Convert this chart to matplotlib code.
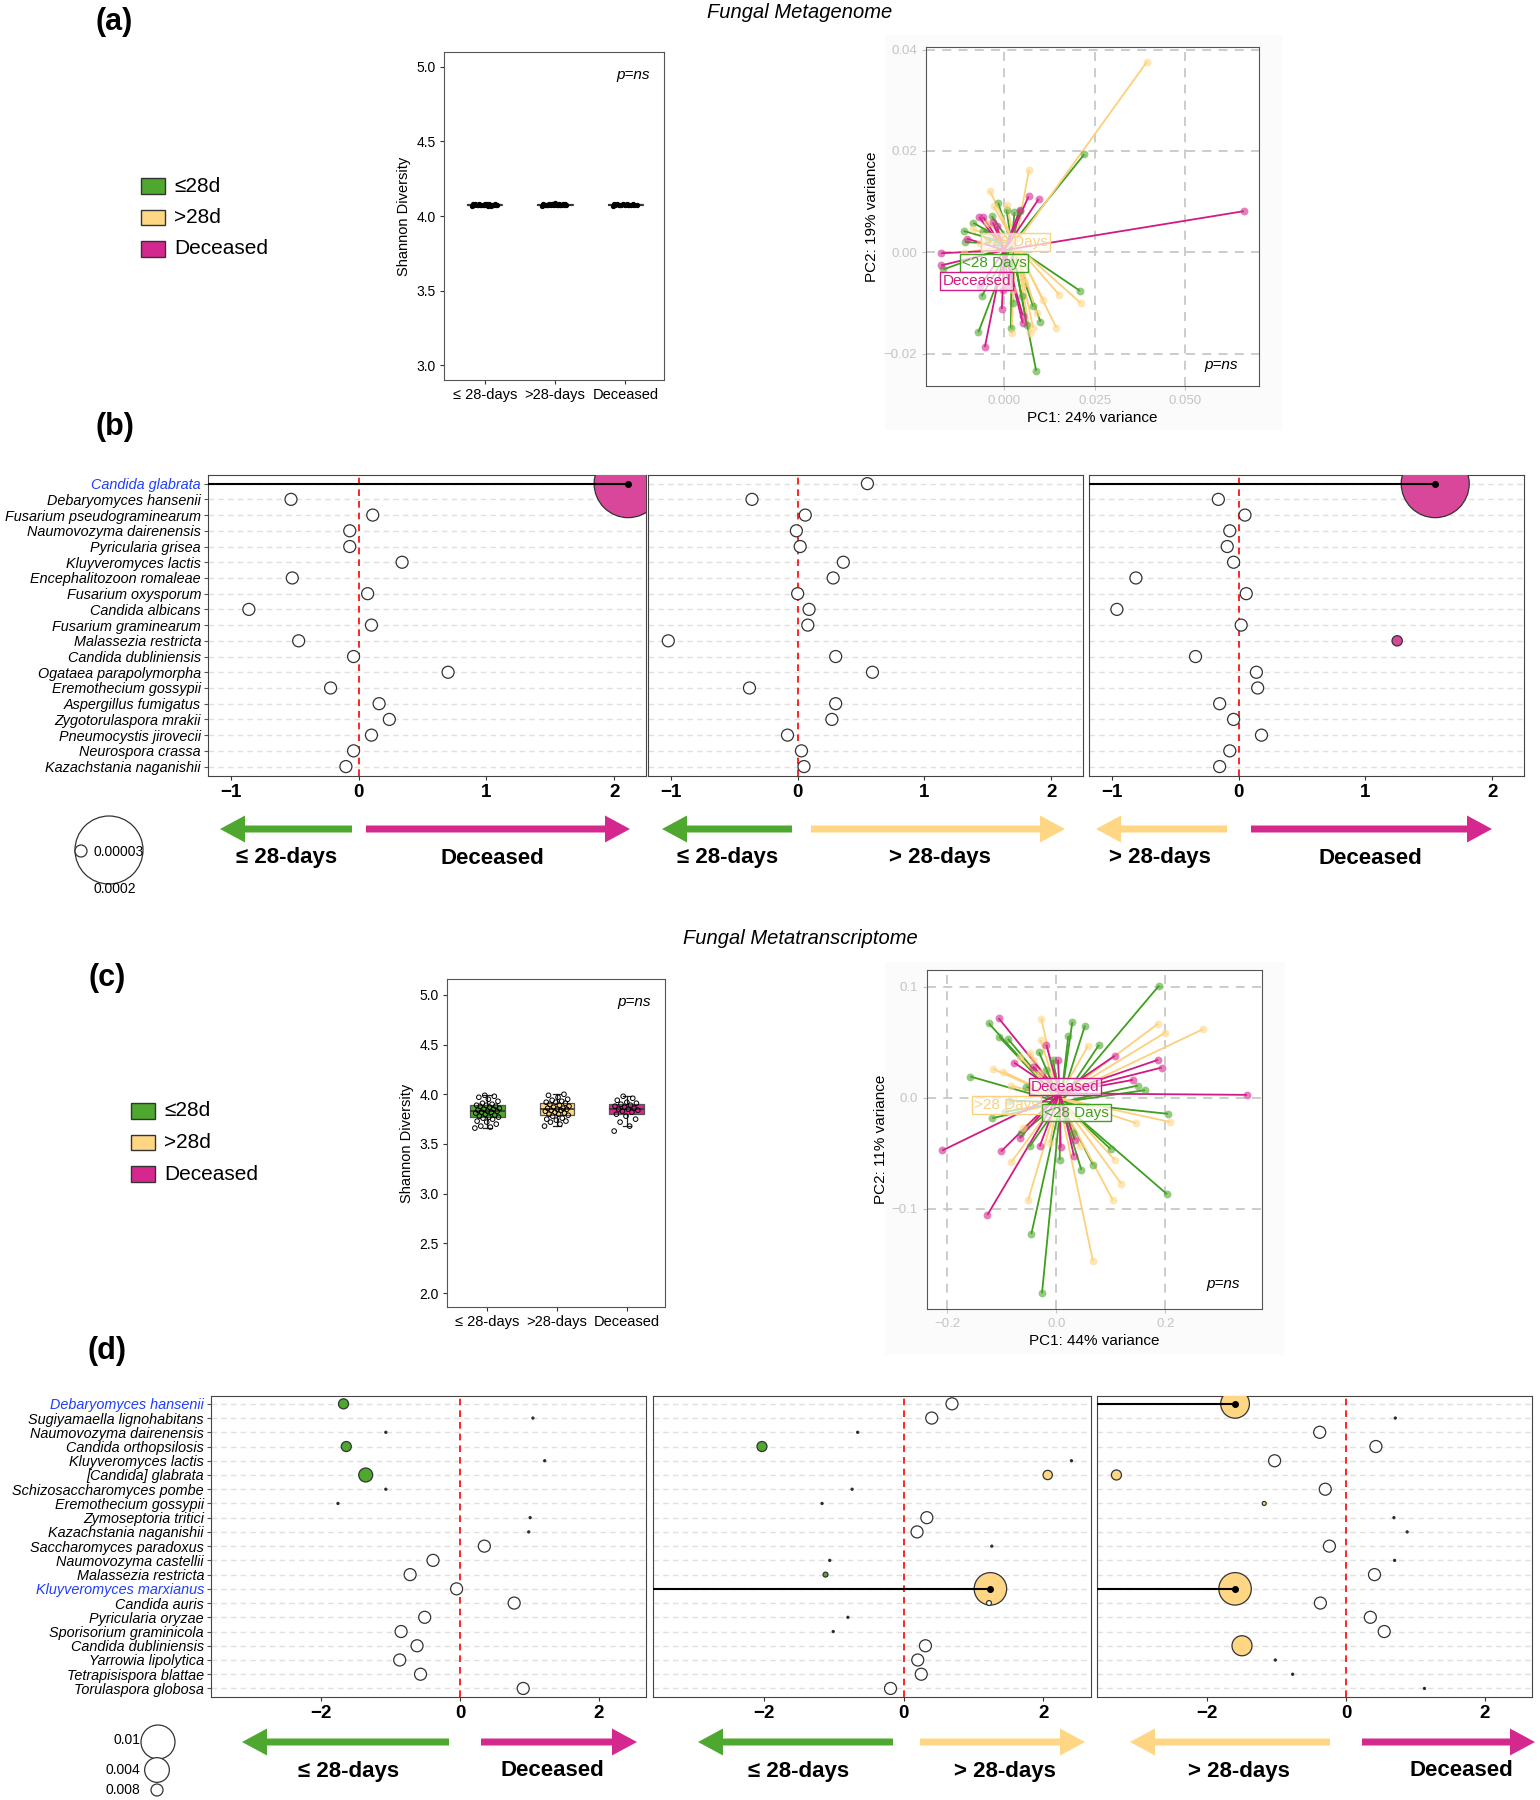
import matplotlib.pyplot as plt
import numpy as np
from matplotlib.patches import FancyArrow, Rectangle
from matplotlib.collections import LineCollection

plt.rcParams['font.family'] = ['Liberation Sans', 'DejaVu Sans']

# ---------------- data ----------------
groups = ['≤ 28-days', '>28-days', 'Deceased']

# Shannon diversity, metagenome (a)
shannon_a_le28 = [4.068, 4.070, 4.071, 4.072, 4.073, 4.074, 4.074, 4.075, 4.075, 4.076, 4.076,
                  4.077, 4.077, 4.078, 4.078, 4.079, 4.080, 4.081, 4.082, 4.070, 4.073, 4.076, 4.079]
shannon_a_gt28 = [4.069, 4.071, 4.072, 4.073, 4.074, 4.075, 4.075, 4.076, 4.076, 4.077, 4.077,
                  4.078, 4.078, 4.079, 4.080, 4.081, 4.083, 4.086, 4.072, 4.075, 4.078]
shannon_a_dec = [4.069, 4.071, 4.072, 4.073, 4.074, 4.075, 4.076, 4.076, 4.077, 4.078, 4.079,
                 4.080, 4.081, 4.083, 4.074, 4.077]

# Shannon diversity, metatranscriptome (c)
shannon_c_le28 = [3.66, 3.67, 3.68, 3.70, 3.72, 3.73, 3.75, 3.76, 3.77, 3.77, 3.78, 3.79, 3.80, 3.81,
                  3.82, 3.82, 3.83, 3.83, 3.84, 3.85, 3.85, 3.86, 3.87, 3.88, 3.88, 3.89, 3.89, 3.90,
                  3.91, 3.93, 3.95, 3.97, 3.98, 3.99]
shannon_c_gt28 = [3.68, 3.70, 3.72, 3.73, 3.74, 3.75, 3.76, 3.78, 3.79, 3.80, 3.80, 3.81, 3.82, 3.83,
                  3.84, 3.84, 3.85, 3.85, 3.86, 3.86, 3.87, 3.88, 3.89, 3.90, 3.91, 3.92, 3.92, 3.93,
                  3.94, 3.95, 3.97, 3.99, 4.00]
shannon_c_dec = [3.63, 3.68, 3.72, 3.75, 3.78, 3.80, 3.82, 3.83, 3.84, 3.85, 3.85, 3.86, 3.87, 3.88,
                 3.89, 3.90, 3.91, 3.92, 3.94, 3.96, 3.98]

# PCA, metagenome (a)
pca_a_le28_x = [0.0221, 0.0209, 0.0088, -0.0072, 0.0100, 0.0018, -0.0113, -0.0169, -0.0108, -0.0017,
                0.0006, 0.0028, 0.0043, -0.0063, 0.0025, 0.0062, -0.0058, -0.0044, -0.0021, -0.0035,
                0.0048, 0.0080, -0.0086]
pca_a_le28_y = [0.0193, -0.0076, -0.0234, -0.0158, -0.0137, -0.0150, 0.0042, -0.0034, 0.0020, 0.0097,
                0.0084, 0.0079, 0.0081, -0.0087, -0.0100, -0.0143, 0.0042, 0.0025, 0.0018, 0.0071,
                -0.0087, -0.0107, 0.0058]
pca_a_gt28_x = [0.0395, 0.0068, -0.0040, 0.0152, 0.0211, 0.0144, 0.0020, 0.0108, 0.0071, 0.0080,
                -0.0030, -0.0086, -0.0067, -0.0113, 0.0025, 0.0089, -0.0012, -0.0049, 0.0006, 0.0057]
pca_a_gt28_y = [0.0376, 0.0162, 0.0121, -0.0084, -0.0100, -0.0149, -0.0160, -0.0094, -0.0160, -0.0150,
                0.0091, 0.0045, 0.0018, -0.0001, -0.0074, -0.0120, -0.0061, 0.0058, 0.0094, -0.0061]
pca_a_dec_x = [0.0663, 0.0067, 0.0095, -0.0175, -0.0175, -0.0054, -0.0007, 0.0051, 0.0051, -0.0070,
               -0.0058, -0.0032, -0.0104, -0.0067, 0.0011, 0.0043, -0.0021, -0.0003]
pca_a_dec_y = [0.0081, 0.0110, 0.0105, -0.0002, -0.0026, -0.0187, -0.0112, -0.0125, -0.0140, 0.0069,
               0.0069, 0.0059, 0.0027, -0.0067, -0.0067, 0.0084, 0.0051, -0.0074]
pca_a_centroids = [(0.0020, 0.0015), (0.0030, 0.0015), (0.0000, 0.0004)]
pca_a_tags = [(-0.0028, -0.0021, '<28 Days'), (0.0031, 0.0020, '>28 Days'), (-0.0077, -0.0057, 'Deceased')]

# PCA, metatranscriptome (c)
pca_c_le28_x = [0.1884, -0.1242, -0.1052, -0.0887, -0.1578, 0.0294, 0.0526, 0.0220, 0.0783, -0.0318,
                0.1498, 0.1627, 0.2049, 0.2031, -0.1174, -0.0936, -0.0862, -0.0459, -0.0263, 0.0459,
                0.0673, 0.0997, -0.0489, -0.0642, -0.0550, -0.0183, -0.0061, 0.0306, 0.0183, 0.0061]
pca_c_le28_y = [0.1010, 0.0672, 0.0552, 0.0531, 0.0192, 0.0684, 0.0651, 0.0558, 0.0477, 0.0411,
                0.0111, 0.0069, -0.0144, -0.0867, -0.0183, -0.0126, -0.0024, -0.1226, -0.1760, -0.0648,
                -0.0603, -0.0462, -0.0438, -0.0318, 0.0102, 0.0252, 0.0342, -0.0318, -0.0198, -0.0558]
pca_c_gt28_x = [0.2691, 0.1865, 0.2000, 0.0581, -0.0275, -0.0288, 0.1468, 0.2080, 0.1070, 0.1193,
                0.1040, 0.0673, -0.0520, -0.0826, -0.0612, -0.1162, -0.0979, -0.0826, -0.0489, -0.0673,
                -0.0122, 0.0428, -0.0428, -0.0306]
pca_c_gt28_y = [0.0618, 0.0666, 0.0588, 0.0468, 0.0714, 0.0522, -0.0228, -0.0216, -0.0558, -0.0774,
                -0.0924, -0.1472, -0.0924, -0.0579, -0.0273, 0.0261, 0.0237, 0.0108, 0.0408, 0.0372,
                -0.0405, -0.0438, 0.0342, 0.0222]
pca_c_dec_x = [0.3498, -0.2092, -0.1266, -0.1015, -0.1058, 0.1865, 0.1933, 0.1407, 0.1070, -0.0183,
               -0.0777, -0.0673, -0.0306, 0.0080, 0.0324, 0.0336, 0.0031, -0.0428]
pca_c_dec_y = [0.0027, -0.0474, -0.1055, -0.0483, 0.0717, 0.0342, 0.0273, 0.0162, 0.0378, 0.0477,
               0.0318, -0.0363, -0.0438, -0.0447, -0.0522, -0.0378, 0.0342, 0.0282]
pca_c_centroids = [(0.008, -0.004), (0.004, 0.000), (0.006, 0.004)]
pca_c_tags = [(0.0373, -0.0132, '<28 Days'), (-0.0911, -0.0063, '>28 Days'), (0.0165, 0.0102, 'Deceased')]

# differential abundance, metagenome (b)
b_species = ['Candida glabrata', 'Debaryomyces hansenii', 'Fusarium pseudograminearum',
             'Naumovozyma dairenensis', 'Pyricularia grisea', 'Kluyveromyces lactis',
             'Encephalitozoon romaleae', 'Fusarium oxysporum', 'Candida albicans',
             'Fusarium graminearum', 'Malassezia restricta', 'Candida dubliniensis',
             'Ogataea parapolymorpha', 'Eremothecium gossypii', 'Aspergillus fumigatus',
             'Zygotorulaspora mrakii', 'Pneumocystis jirovecii', 'Neurospora crassa',
             'Kazachstania naganishii']
b_blue = [0]
b1_lfc = [2.11, -0.53, 0.11, -0.07, -0.07, 0.34, -0.52, 0.07, -0.86, 0.10, -0.47, -0.04, 0.70,
          -0.22, 0.16, 0.24, 0.10, -0.04, -0.10]
b1_size = [0.0002] + [0.00003] * 18
b1_fill = ['p'] + ['n'] * 18
b1_line = [0]
b2_lfc = [0.55, -0.36, 0.06, -0.01, 0.02, 0.36, 0.28, 0.00, 0.09, 0.08, -1.02, 0.30, 0.59, -0.38,
          0.30, 0.27, -0.08, 0.03, 0.05]
b2_size = [0.00003] * 19
b2_fill = ['n'] * 19
b2_line = []
b3_lfc = [1.55, -0.16, 0.05, -0.07, -0.09, -0.04, -0.81, 0.06, -0.96, 0.02, 1.25, -0.34, 0.14,
          0.15, -0.15, -0.04, 0.18, -0.07, -0.15]
b3_size = [0.0002] + [0.00003] * 9 + [0.000022] + [0.00003] * 8
b3_fill = ['p'] + ['n'] * 9 + ['p'] + ['n'] * 8
b3_line = [0]

# differential abundance, metatranscriptome (d)
d_species = ['Debaryomyces hansenii', 'Sugiyamaella lignohabitans', 'Naumovozyma dairenensis',
             'Candida orthopsilosis', 'Kluyveromyces lactis', '[Candida] glabrata',
             'Schizosaccharomyces pombe', 'Eremothecium gossypii', 'Zymoseptoria tritici',
             'Kazachstania naganishii', 'Saccharomyces paradoxus', 'Naumovozyma castellii',
             'Malassezia restricta', 'Kluyveromyces marxianus', 'Candida auris', 'Pyricularia oryzae',
             'Sporisorium graminicola', 'Candida dubliniensis', 'Yarrowia lipolytica',
             'Tetrapisispora blattae', 'Torulaspora globosa']
d_blue = [0, 13]
d1_lfc = [-1.68, 1.05, -1.07, -1.64, 1.22, -1.36, -1.07, -1.76, 1.01, 0.99, 0.35, -0.39, -0.72,
          -0.05, 0.78, -0.51, -0.85, -0.62, -0.87, -0.57, 0.91]
d1_size = [0.0007, 3e-5, 3e-5, 0.0007, 3e-5, 0.00107, 3e-5, 3e-5, 3e-5, 3e-5] + [0.001] * 11
d1_fill = ['g', 'k', 'k', 'g', 'k', 'g', 'k', 'k', 'k', 'k'] + ['n'] * 11
d1_line = []
d2_lfc = [0.69, 0.40, -0.66, -2.03, 2.40, 2.06, -0.74, -1.17, 0.33, 0.19, 1.26, -1.06, -1.12, 1.24,
          1.22, -0.80, -1.01, 0.31, 0.20, 0.25, -0.19]
d2_size = [0.001, 0.001, 3e-5, 0.0007, 3e-5, 0.0006, 3e-5, 3e-5, 0.001, 0.001, 3e-5, 3e-5, 0.00017,
           0.0088, 0.00017, 3e-5, 3e-5, 0.001, 0.001, 0.001, 0.001]
d2_fill = ['n', 'n', 'k', 'g', 'k', 'y', 'k', 'k', 'n', 'n', 'k', 'k', 'g', 'y', 'n', 'k', 'k',
           'n', 'n', 'n', 'n']
d2_line = [13]
d3_lfc = [-1.60, 0.71, -0.38, 0.43, -1.03, -3.31, -0.30, -1.18, 0.69, 0.88, -0.24, 0.70, 0.41,
          -1.60, -0.37, 0.35, 0.55, -1.50, -1.02, -0.77, 1.13]
d3_size = [0.0062, 3e-5, 0.001, 0.001, 0.001, 0.0007, 0.001, 0.00011, 3e-5, 3e-5, 0.001, 3e-5,
           0.001, 0.0088, 0.001, 0.001, 0.001, 0.0022, 3e-5, 3e-5, 3e-5]
d3_fill = ['y', 'k', 'n', 'n', 'n', 'y', 'n', 'y', 'k', 'k', 'n', 'k', 'n', 'y', 'n', 'n', 'n',
           'y', 'k', 'k', 'k']
d3_line = [0, 13]

b_legend_vals = [0.0002, 0.00003]
b_legend_labels = ['0.0002', '0.00003']
d_legend_vals = [0.01, 0.004, 0.001]
d_legend_labels = ['0.01', '0.004', '0.008']

# ---------------- style ----------------
GREEN = '#4ea72e'
YELLOW = '#fed684'
PINK = '#d5288f'
LINE_COLS = ['#3f9f1f', '#fdd07c', '#d11a82']
FILLS = {'n': 'white', 'k': 'black', 'g': GREEN, 'y': YELLOW, 'p': '#d9479a'}
B_SCALE = (0.00003, 0.0002, 6, 34)
D_SCALE = (0.001, 0.01, 6, 17)

W, H = 1540, 1800
fig = plt.figure(figsize=(W / 100, H / 100), dpi=100)
ov = fig.add_axes([0, 0, 1, 1])
ov.set_xlim(0, W)
ov.set_ylim(H, 0)
ov.axis('off')


def px_rect(x0, y0, x1, y1):
    return [x0 / W, 1 - y1 / H, (x1 - x0) / W, (y1 - y0) / H]


def area(v, sc):
    vmin, vmax, rmin, rmax = sc
    if v >= vmin:
        r = rmin + (rmax - rmin) * np.sqrt((v - vmin) / (vmax - vmin))
    else:
        r = rmin * np.sqrt(v / vmin)
    return (2 * r * 0.72) ** 2


def minus(t):
    return t.replace('-', '\u2212')


def shannon(box, data, ylim, yticks, flat):
    ax = fig.add_axes(px_rect(*box))
    pos = [1, 2, 3]
    bp = ax.boxplot(data, positions=pos, widths=0.5, patch_artist=True, showfliers=False,
                    capwidths=0.12,
                    medianprops=dict(color='#333333', lw=1.2),
                    whiskerprops=dict(color='#222222', lw=0.9),
                    capprops=dict(color='#222222', lw=0.9),
                    boxprops=dict(edgecolor='#555555', lw=0.9))
    for patch, c in zip(bp['boxes'], [GREEN, YELLOW, PINK]):
        patch.set_facecolor(c)
    for p, vals in zip(pos, data):
        n = len(vals)
        jit = ((np.arange(n) * 0.618) % 1 - 0.5) * 0.36
        if flat:
            ax.scatter(p + jit, vals, s=8, color='black', zorder=3)
        else:
            ax.scatter(p + jit, vals, s=11, facecolor='none', edgecolor='black', lw=0.7, zorder=3)
    ax.set_xlim(0.42, 3.55)
    ax.set_ylim(*ylim)
    ax.set_yticks(yticks)
    ax.set_yticklabels(['%.1f' % t for t in yticks], fontsize=10)
    ax.set_xticks(pos)
    ax.set_xticklabels(groups, fontsize=10.5)
    ax.tick_params(length=3, color='#333333', pad=3)
    ax.set_ylabel('Shannon Diversity', fontsize=10.5, labelpad=4)
    for s in ax.spines.values():
        s.set_color('#555555')
    ax.text(0.86, 0.93, 'p=ns', style='italic', fontsize=11, ha='center', va='center',
            transform=ax.transAxes)
    return ax


def pca(box, pts, cents, tags, xlim, ylim, xt, xtl, yt, ytl, xlabel, ylabel, pns):
    ax = fig.add_axes(px_rect(*box))
    for v in xt:
        ax.axvline(v, color='#c8c8c8', lw=1.3, ls=(0, (5, 4)), zorder=0)
    for v in yt:
        ax.axhline(v, color='#c8c8c8', lw=1.3, ls=(0, (5, 4)), zorder=0)
    cols = [GREEN, YELLOW, PINK]
    for (xs, ys), (cx, cy), lc, pc in zip(pts, cents, LINE_COLS, cols):
        segs = [[(cx, cy), (x, y)] for x, y in zip(xs, ys)]
        ax.add_collection(LineCollection(segs, colors=lc, lw=1.3, zorder=2))
        ax.scatter(xs, ys, s=32, color=pc, alpha=0.6, lw=0, zorder=3)
    for (tx, ty, text), lc in zip(tags, LINE_COLS):
        ax.text(tx, ty, text, color=lc, fontsize=11, ha='center', va='center', zorder=5,
                bbox=dict(boxstyle='square,pad=0.12', fc=(1, 1, 1, 0.7), ec=lc, lw=1))
    ax.set_xlim(*xlim)
    ax.set_ylim(*ylim)
    ax.set_xticks(xt)
    ax.set_xticklabels(xtl, fontsize=9.5, color='#c4c4c4')
    ax.set_yticks(yt)
    ax.set_yticklabels(ytl, fontsize=9.5, color='#c4c4c4')
    ax.tick_params(length=3, color='#c4c4c4')
    ax.set_xlabel(xlabel, fontsize=11, labelpad=3)
    ax.set_ylabel(ylabel, fontsize=11, labelpad=3)
    for s in ax.spines.values():
        s.set_color('#555555')
    ax.text(pns[0], pns[1], 'p=ns', style='italic', fontsize=11, ha='center', va='center')
    return ax


def dots(box, names, lfc, size, fill, lines, blue, scale, xlim, xticks, show_names):
    ax = fig.add_axes(px_rect(*box))
    n = len(names)
    rows = np.arange(n)
    for r in rows:
        ax.axhline(r, color='#e0e0e0', lw=1, ls=(0, (4, 3)), zorder=0)
    ax.axvline(0, color='red', lw=1.2, ls=(0, (4, 3)), zorder=1)
    ss = [area(v, scale) for v in size]
    ax.scatter(lfc, rows, s=ss, c=[FILLS[f] for f in fill], edgecolors='#333333',
               linewidths=0.9, zorder=3)
    for r in lines:
        ax.plot([xlim[0], lfc[r]], [r, r], color='black', lw=1.5, zorder=4)
        ax.scatter([lfc[r]], [r], s=16, color='black', zorder=5)
    ax.set_xlim(*xlim)
    ax.set_ylim(n - 1 + 0.6, -0.55)
    ax.set_xticks(xticks)
    ax.set_xticklabels([minus(str(t)) for t in xticks], fontsize=13.5, fontweight='bold')
    ax.tick_params(axis='x', length=3, color='#333333', pad=3)
    ax.set_yticks(rows)
    if show_names:
        ax.set_yticklabels(names, fontstyle='italic', fontsize=10.4)
        ax.tick_params(axis='y', length=3, color='#555555', pad=2)
        for i in blue:
            ax.get_yticklabels()[i].set_color('#1f3dff')
    else:
        ax.set_yticklabels([])
        ax.tick_params(axis='y', length=0)
    for s in ax.spines.values():
        s.set_color('#444444')
    return ax


def arrow(x0, x1, y, color):
    ov.add_patch(FancyArrow(x0, y, x1 - x0, 0, width=7, head_width=27, head_length=25,
                            length_includes_head=True, color=color, lw=0))


def arrow_text(x, y, text):
    ov.text(x, y, text, fontsize=16, fontweight='bold', ha='center', va='center')


# ---------------- titles / panel labels ----------------
ov.text(800, 13, 'Fungal Metagenome', style='italic', fontsize=14.5, ha='center', va='center')
ov.text(800, 939, 'Fungal Metatranscriptome', style='italic', fontsize=14.5, ha='center', va='center')
for lab, x, y in [('(a)', 114, 22), ('(b)', 115, 427), ('(c)', 107, 978), ('(d)', 107, 1351)]:
    ov.text(x, y, lab, fontsize=22, fontweight='bold', ha='center', va='center')

# group legends
for top, x0 in [(178, 141), (1103, 131)]:
    for i, (c, lab) in enumerate(zip([GREEN, YELLOW, PINK], ['≤28d', '>28d', 'Deceased'])):
        y = top + i * 31.5
        ov.add_patch(Rectangle((x0, y), 24, 15.5, fc=c, ec='#333333', lw=1))
        ov.text(x0 + 33, y + 8, lab, fontsize=15, ha='left', va='center')

# light plot backgrounds behind PCA panels
ov.add_patch(Rectangle((885, 35), 397, 395, fc='#fbfbfb', ec='none'))
ov.add_patch(Rectangle((885, 962), 400, 393, fc='#fbfbfb', ec='none'))

# ---------------- panels ----------------
shannon((444, 52, 664, 380), [shannon_a_le28, shannon_a_gt28, shannon_a_dec], (2.9, 5.1),
        [3.0, 3.5, 4.0, 4.5, 5.0], True)
shannon((447, 979, 665, 1307), [shannon_c_le28, shannon_c_gt28, shannon_c_dec], (1.86, 5.16),
        [2.0, 2.5, 3.0, 3.5, 4.0, 4.5, 5.0], False)

pca((926, 47, 1259, 386),
    [(pca_a_le28_x, pca_a_le28_y), (pca_a_gt28_x, pca_a_gt28_y), (pca_a_dec_x, pca_a_dec_y)],
    pca_a_centroids, pca_a_tags, (-0.0217, 0.0705), (-0.0264, 0.0405),
    [0.0, 0.025, 0.05], ['0.000', '0.025', '0.050'],
    [-0.02, 0.0, 0.02, 0.04], ['\u22120.02', '0.00', '0.02', '0.04'],
    'PC1: 24% variance', 'PC2: 19% variance', (0.060, -0.0222))

pca((927, 970, 1262, 1309),
    [(pca_c_le28_x, pca_c_le28_y), (pca_c_gt28_x, pca_c_gt28_y), (pca_c_dec_x, pca_c_dec_y)],
    pca_c_centroids, pca_c_tags, (-0.2373, 0.3774), (-0.1901, 0.1151),
    [-0.2, 0.0, 0.2], ['\u22120.2', '0.0', '0.2'],
    [-0.1, 0.0, 0.1], ['\u22120.1', '0.0', '0.1'],
    'PC1: 44% variance', 'PC2: 11% variance', (0.306, -0.168))

bx = (-1.18, 2.25)
dots((208, 475, 646, 776), b_species, b1_lfc, b1_size, b1_fill, b1_line, b_blue, B_SCALE, bx,
     [-1, 0, 1, 2], True)
dots((648, 475, 1083, 776), b_species, b2_lfc, b2_size, b2_fill, b2_line, b_blue, B_SCALE, bx,
     [-1, 0, 1, 2], False)
dots((1089, 475, 1524, 776), b_species, b3_lfc, b3_size, b3_fill, b3_line, b_blue, B_SCALE, bx,
     [-1, 0, 1, 2], False)

dx = (-3.59, 2.68)
dots((211, 1396, 646, 1697), d_species, d1_lfc, d1_size, d1_fill, d1_line, d_blue, D_SCALE, dx,
     [-2, 0, 2], True)
dots((653, 1396, 1091, 1697), d_species, d2_lfc, d2_size, d2_fill, d2_line, d_blue, D_SCALE, dx,
     [-2, 0, 2], False)
dots((1097, 1396, 1532, 1697), d_species, d3_lfc, d3_size, d3_fill, d3_line, d_blue, D_SCALE, dx,
     [-2, 0, 2], False)

# ---------------- direction arrows ----------------
arrow(352, 220, 829, GREEN)
arrow(366, 630, 829, PINK)
arrow_text(287, 858, '≤ 28-days')
arrow_text(492, 858, 'Deceased')
arrow(792, 662, 829, GREEN)
arrow(811, 1065, 829, YELLOW)
arrow_text(728, 858, '≤ 28-days')
arrow_text(940, 858, '> 28-days')
arrow(1227, 1096, 829, YELLOW)
arrow(1251, 1492, 829, PINK)
arrow_text(1160, 858, '> 28-days')
arrow_text(1370, 858, 'Deceased')

arrow(449, 242, 1742, GREEN)
arrow(481, 637, 1742, PINK)
arrow_text(349, 1771, '≤ 28-days')
arrow_text(552, 1771, 'Deceased')
arrow(893, 698, 1742, GREEN)
arrow(920, 1085, 1742, YELLOW)
arrow_text(799, 1771, '≤ 28-days')
arrow_text(1005, 1771, '> 28-days')
arrow(1330, 1130, 1742, YELLOW)
arrow(1362, 1535, 1742, PINK)
arrow_text(1239, 1771, '> 28-days')
arrow_text(1461, 1771, 'Deceased')

# ---------------- size legends ----------------
ov.scatter([109, 81], [850, 851], s=[area(v, B_SCALE) for v in b_legend_vals],
           facecolor='white', edgecolor='#333333', lw=0.9, zorder=3)
ov.text(94, 889, b_legend_labels[0], fontsize=10, ha='left', va='center')
ov.text(94, 852, b_legend_labels[1], fontsize=10, ha='left', va='center', zorder=4)

ov.scatter([158, 157, 157], [1742, 1770, 1790], s=[area(v, D_SCALE) for v in d_legend_vals],
           facecolor='white', edgecolor='#333333', lw=0.9)
for lab, y in zip(d_legend_labels, [1740, 1770, 1790]):
    ov.text(140, y, lab, fontsize=10, ha='right', va='center')

fig.savefig('out.png', dpi=100)
